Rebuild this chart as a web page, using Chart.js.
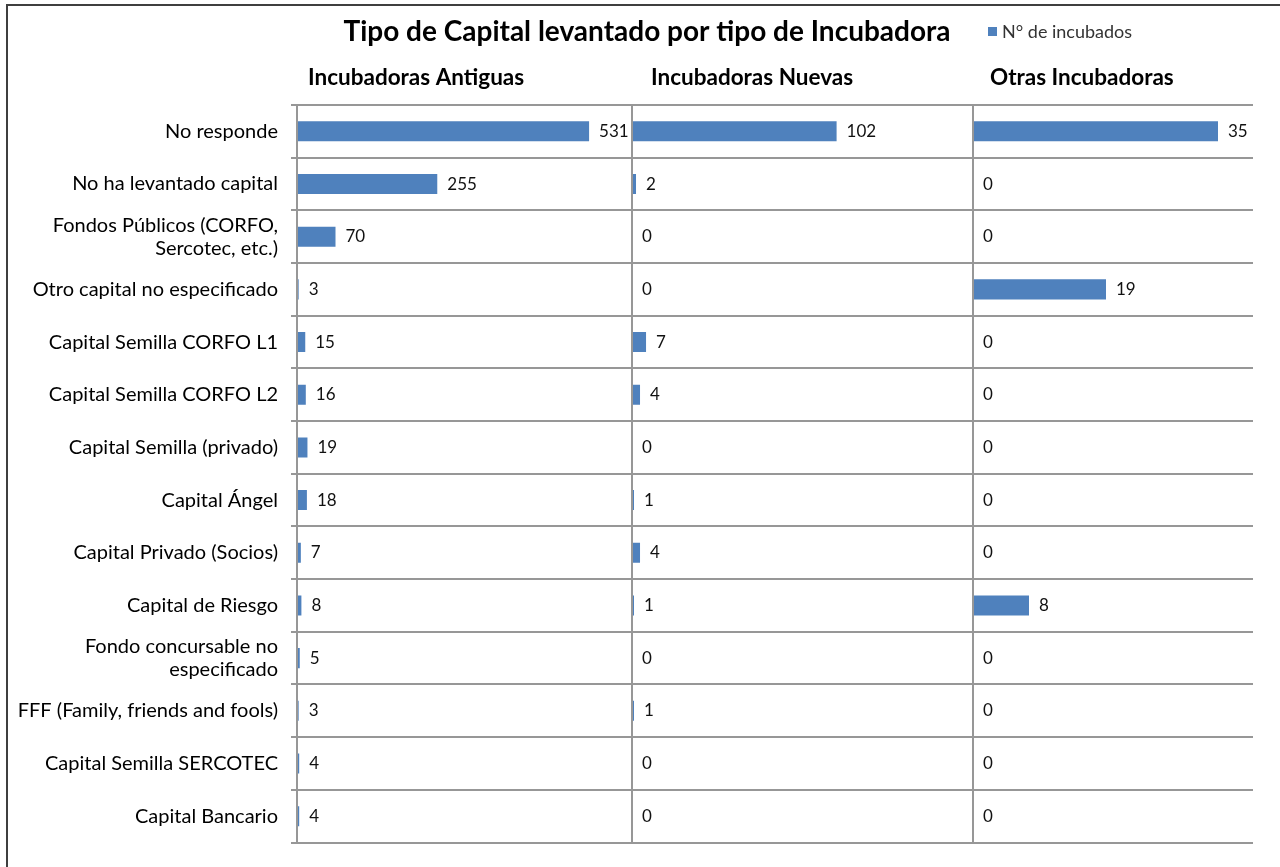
<!DOCTYPE html>
<html>
<head>
<meta charset="utf-8">
<script src="https://cdn.jsdelivr.net/npm/chart.js@4.4.1/dist/chart.umd.min.js"></script>
<style>
  html, body { margin: 0; padding: 0; background: #fff; overflow: hidden; }
  #frame { position: absolute; left: 6px; top: 4px; width: 1300px; height: 900px; border: 2px solid #3f3f3f; }
  #chart { position: absolute; left: 0; top: 0; }
</style>
</head>
<body>
<div id="frame"></div>
<canvas id="chart" width="1280" height="867"></canvas>
<script>
const chartTitle = 'Tipo de Capital levantado por tipo de Incubadora';
const seriesLabel = 'N° de incubados';
const panelTitles = ['Incubadoras Antiguas', 'Incubadoras Nuevas', 'Otras Incubadoras'];

const categories = [
  'No responde',
  'No ha levantado capital',
  ['Fondos Públicos (CORFO,', 'Sercotec, etc.)'],
  'Otro capital no especificado',
  'Capital Semilla CORFO L1',
  'Capital Semilla CORFO L2',
  'Capital Semilla (privado)',
  'Capital Ángel',
  'Capital Privado (Socios)',
  'Capital de Riesgo',
  ['Fondo concursable no', 'especificado'],
  'FFF (Family, friends and fools)',
  'Capital Semilla SERCOTEC',
  'Capital Bancario'
];
const antiguas = [531, 255, 70, 3, 15, 16, 19, 18, 7, 8, 5, 3, 4, 4];
const nuevas   = [102, 2, 0, 0, 7, 4, 0, 1, 4, 1, 0, 1, 0, 0];
const otras    = [35, 0, 0, 19, 0, 0, 0, 0, 0, 8, 0, 0, 0, 0];

const panelData = [antiguas, nuevas, otras];
const panelMax = [609, 170, 40];

const BLUE = '#4F81BD';
const GRID = '#979797';

// numbers at the end of each bar
const valueLabels = {
  id: 'valueLabels',
  afterDatasetsDraw(chart) {
    const ctx = chart.ctx;
    ctx.save();
    ctx.font = '17px Lato';
    ctx.fillStyle = '#111';
    ctx.textBaseline = 'middle';
    chart.data.datasets.forEach((ds, i) => {
      chart.getDatasetMeta(i).data.forEach((bar, j) => {
        ctx.fillText(String(ds.data[j]), bar.x + 10, bar.y);
      });
    });
    ctx.restore();
  }
};

// title, panel headers and the little legend next to the title
const headers = {
  id: 'headers',
  afterDraw(chart) {
    const ctx = chart.ctx;
    ctx.save();
    ctx.textBaseline = 'middle';
    ctx.fillStyle = '#000';
    ctx.font = 'bold 28px Lato';
    ctx.textAlign = 'center';
    ctx.fillText(chartTitle, 647, 32);

    ctx.textAlign = 'left';
    ctx.font = 'bold 22.5px Lato';
    const shift = [11, 19, 17];
    ['x1', 'x2', 'x3'].forEach((id, i) => {
      const s = chart.scales[id];
      ctx.fillText(panelTitles[i], s.left + shift[i], chart.chartArea.top - 27);
    });

    const lx = 988, ly = 32;
    ctx.fillStyle = BLUE;
    ctx.fillRect(lx, ly - 5, 9, 9);
    ctx.font = '18px Lato';
    ctx.fillStyle = '#333';
    ctx.fillText(seriesLabel, lx + 14, ly);
    ctx.restore();
  }
};

function panelAxis(i, weight) {
  return {
    type: 'linear',
    position: 'top',
    stack: 'panels',
    stackWeight: weight,
    min: 0,
    max: panelMax[i],
    ticks: { display: false },
    border: { display: false },
    grid: {
      drawTicks: false,
      lineWidth: 2,
      color: c => (c.tick && c.tick.value === 0 && i > 0) ? GRID : 'rgba(0,0,0,0)'
    }
  };
}

new Chart(document.getElementById('chart'), {
  type: 'bar',
  data: {
    labels: categories,
    datasets: panelData.map((d, i) => ({
      label: seriesLabel,
      data: d,
      xAxisID: 'x' + (i + 1),
      yAxisID: 'y',
      backgroundColor: BLUE,
      borderWidth: 0,
      grouped: false,
      barPercentage: 0.38,
      categoryPercentage: 1
    }))
  },
  options: {
    indexAxis: 'y',
    responsive: false,
    devicePixelRatio: 1,
    animation: false,
    layout: { padding: { left: 14, right: 27, top: 105, bottom: 20 } },
    scales: {
      // top boxes are laid out in reverse order, so the last panel goes first
      x3: panelAxis(2, 280),
      x2: panelAxis(1, 341),
      x1: panelAxis(0, 335),
      y: {
        type: 'category',
        position: 'left',
        offset: true,
        grid: { offset: true, color: GRID, lineWidth: 2, tickLength: 6, drawTicks: true },
        border: { display: true, color: GRID, width: 2 },
        ticks: {
          autoSkip: false,
          color: '#000',
          padding: 13,
          font: { family: 'Lato', size: 20, lineHeight: 1.15 }
        },
        afterFit: s => { s.width = 283; }
      }
    },
    plugins: {
      legend: { display: false },
      tooltip: { enabled: false },
      title: { display: false }
    }
  },
  plugins: [valueLabels, headers]
});
</script>
</body>
</html>
